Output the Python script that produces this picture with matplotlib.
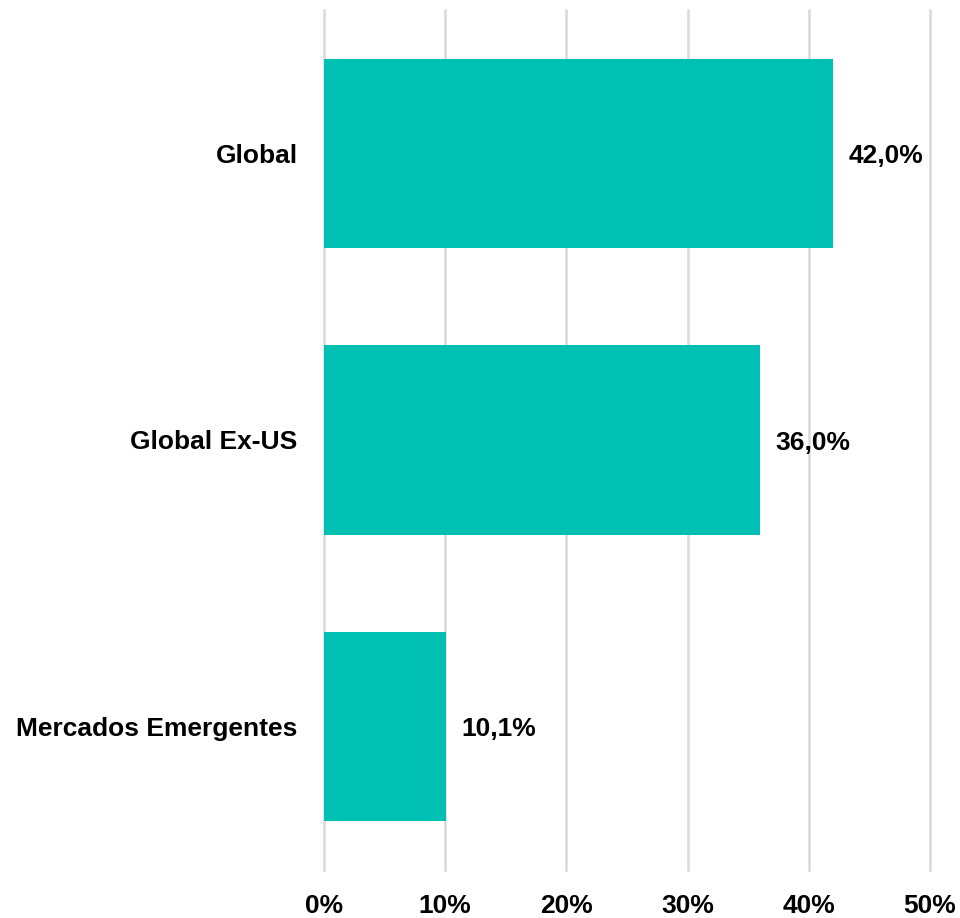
import matplotlib.pyplot as plt
from matplotlib.ticker import FuncFormatter

plt.rcParams['font.family'] = ['Liberation Sans', 'DejaVu Sans']

categories = ["Global", "Global Ex-US", "Mercados Emergentes"]
values = [42.0, 36.0, 10.1]
xticks = [0, 10, 20, 30, 40, 50]

fig = plt.figure(figsize=(9.6, 9.18), dpi=100)
ax = fig.add_axes([0.3375, 0.0523, 0.63125, 0.9368])

ypos = range(len(categories))
ax.barh(ypos, values, height=0.66, color="#00bfb3", zorder=3)

# etiquetas de valor
for y, v in zip(ypos, values):
    ax.annotate(f"{v:.1f}%".replace(".", ","), xy=(v, y), xytext=(11, -2),
                textcoords="offset points", va="center", ha="left",
                fontsize=19, fontweight="bold", color="black")

ax.set_xlim(0, 50)
ax.set_ylim(2.5, -0.5)
ax.set_xticks(xticks)
ax.xaxis.set_major_formatter(FuncFormatter(lambda x, p: f"{x:.0f}%"))
ax.set_yticks(list(ypos))
ax.set_yticklabels(categories)

for s in ax.spines.values():
    s.set_visible(False)
ax.grid(axis="x", color="#d9d9d9", linewidth=1.8, zorder=0)
for gl in ax.get_xgridlines():
    gl.set_clip_on(False)
ax.tick_params(axis="both", length=0, labelsize=19)
ax.tick_params(axis="x", pad=17)
ax.tick_params(axis="y", pad=19)
for lab in ax.get_xticklabels() + ax.get_yticklabels():
    lab.set_fontweight("bold")

fig.savefig("out.png", dpi=100)
